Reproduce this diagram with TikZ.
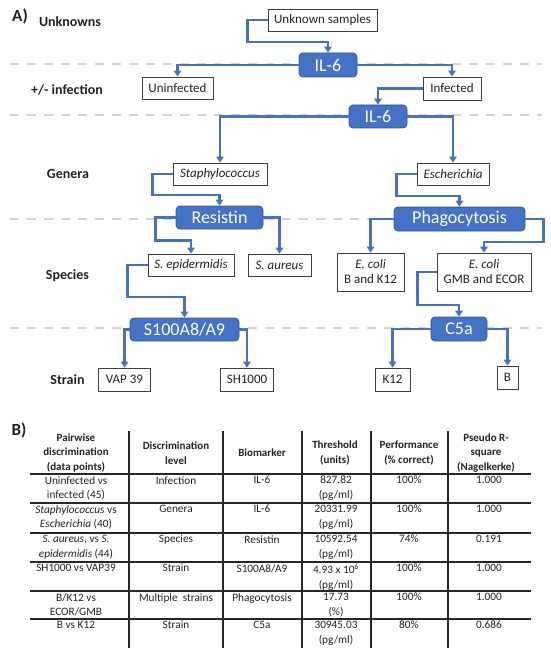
\documentclass[tikz,border=0pt]{standalone}
\usepackage{fontspec}
\setmainfont{Carlito}
\usetikzlibrary{arrows.meta}
\definecolor{bl}{HTML}{4472C4}
\definecolor{bld}{HTML}{2F5597}
\definecolor{dg}{HTML}{D3D3D3}
\definecolor{tx}{HTML}{222222}
\begin{document}
\begin{tikzpicture}[x=1pt,y=-1pt,
  wbox/.style={draw=black!75, line width=0.8pt, fill=white, inner sep=0pt, font=\fontsize{13}{15}\selectfont, text=tx, align=center},
  bbox/.style={draw=bld, line width=0.8pt, fill=bl, rounded corners=4pt, inner sep=0pt, text=white, font=\fontsize{18}{20}\selectfont},
  conn/.style={draw=bl, line width=2.3pt, -{Triangle[width=7.5pt,length=6pt]}},
  lvl/.style={font=\bfseries\fontsize{14}{16}\selectfont, text=tx, inner sep=0pt},
  sepline/.style={draw=dg, line width=2pt, dash pattern=on 9pt off 8pt},
  tline/.style={draw=black!85, line width=1.1pt},
  th/.style={font=\bfseries\fontsize{11}{14.5}\selectfont, align=center, text=tx, inner sep=0pt},
  td/.style={font=\fontsize{11.3}{14.5}\selectfont, align=center, text=tx, anchor=north, inner sep=0pt}]
\useasboundingbox (0,0) rectangle (550,655);

% separators
\foreach \yy in {64,115,219,328} \draw[sepline] (10,\yy) -- (542,\yy);

% panel labels
\node[font=\bfseries\fontsize{17}{19}\selectfont, text=tx, inner sep=0pt] (la) at (20,16) {A)};
\node[font=\bfseries\fontsize{17}{19}\selectfont, text=tx, inner sep=0pt] (lb) at (19,430) {B)};

% level labels
\node[lvl] (l1) at (70,22) {Unknowns};
\node[lvl] (l2) at (67,90) {+/- infection};
\node[lvl] (l3) at (68,174) {Genera};
\node[lvl] (l4) at (67.5,276) {Species};
\node[lvl] (l5) at (67.5,380) {Strain};

% boxes
\node[wbox, minimum width=109pt, minimum height=22pt] (us) at (322.5,20) {Unknown samples};
\node[bbox, minimum width=58pt, minimum height=24pt] (il1) at (328,65) {IL-6};
\node[wbox, minimum width=71pt, minimum height=22pt] (uninf) at (177.5,88) {Uninfected};
\node[wbox, minimum width=58pt, minimum height=23pt] (inf) at (452,88.5) {Infected};
\node[bbox, minimum width=58pt, minimum height=23pt] (il2) at (378,116.5) {IL-6};
\node[wbox, minimum width=94pt, minimum height=22pt] (staph) at (220,174) {\itshape Staphylococcus};
\node[wbox, minimum width=72pt, minimum height=22pt] (esch) at (453,174) {\itshape Escherichia};
\node[bbox, minimum width=87pt, minimum height=23pt] (res) at (219.5,217.5) {Resistin};
\node[bbox, minimum width=131pt, minimum height=24pt] (phago) at (459.5,219) {Phagocytosis};
\node[wbox, minimum width=86pt, minimum height=22pt] (sepi) at (191,265) {\itshape S. epidermidis};
\node[wbox, minimum width=63pt, minimum height=22pt] (saur) at (279.5,265) {\itshape S. aureus};
\node[wbox, minimum width=67pt, minimum height=38pt] (ecb) at (370.5,272) {\textit{E. coli}\\B and K12};
\node[wbox, minimum width=94pt, minimum height=38pt] (ecg) at (484,272) {\textit{E. coli}\\GMB and ECOR};
\node[bbox, minimum width=109pt, minimum height=23pt] (s100) at (184.5,329.5) {S100A8/A9};
\node[bbox, minimum width=56pt, minimum height=24pt] (c5a) at (459,329) {C5a};
\node[wbox, minimum width=52pt, minimum height=23pt] (vap) at (124.5,379.5) {VAP 39};
\node[wbox, minimum width=53pt, minimum height=23pt] (sh) at (247,379.5) {SH1000};
\node[wbox, minimum width=35pt, minimum height=23pt] (k12) at (392.5,379.5) {K12};
\node[wbox, minimum width=21pt, minimum height=23pt] (bb) at (507.5,377.5) {B};

% connectors
\draw[conn] (us.west) -| ++(-20,22) -| (il1.north);
\draw[conn] (il1.west) -| (uninf.north);
\draw[conn] (il1.east) -| (inf.north);
\draw[conn] (inf.west) -| (il2.north);
\draw[conn] (il2.west) -| (staph.north);
\draw[conn] (il2.east) -| (esch.north);
\draw[conn] (staph.west) -| ++(-20,21) -| (res.north);
\draw[conn] (res.west) -| ++(-20,23) -| (sepi.north);
\draw[conn] (res.east) -| (saur.north);
\draw[conn] (sepi.west) -| ++(-20,32) -| (s100.north);
\draw[conn] (s100.west) -| (vap.north);
\draw[conn] (s100.east) -| (sh.north);
\draw[conn] (esch.west) -| ++(-20,22) -| (phago.north);
\draw[conn] (phago.west) -| (ecb.north);
\draw[conn] (phago.east) -| ++(18,23) -| (ecg.north);
\draw[conn] (ecg.west) -| ++(-19,33) -| (c5a.north);
\draw[conn] (c5a.west) -| (k12.north);
\draw[conn] (c5a.east) -| (bb.north);

% table grid
\foreach \xx in {129,223,302,371,448} \draw[tline] (\xx,431) -- (\xx,648);
\foreach \yy in {474,503,533,562,591,619} \draw[tline] (30,\yy) -- (531,\yy);

% header
\node[th] (h1) at (76,453) {Pairwise\\discrimination\\(data points)};
\node[th] (h2) at (176,453) {Discrimination\\level};
\node[th] (h3) at (262,453) {Biomarker};
\node[th] (h4) at (335,453) {Threshold\\(units)};
\node[th] (h5) at (409,453) {Performance\\(\% correct)};
\node[th] (h6) at (486,453) {Pseudo R-\\square\\(Nagelkerke)};

% rows
\foreach \top/\a/\b/\c/\d/\e/\f in {
 476/{Uninfected vs\\infected (45)}/Infection/IL-6/{827.82\\(pg/ml)}/100\%/1.000,
 505/{\textit{Staphylococcus} vs\\\textit{Escherichia} (40)}/Genera/IL-6/{20331.99\\(pg/ml)}/100\%/1.000,
 535/{\textit{S. aureus}, vs \textit{S.}\\\textit{epidermidis} (44)}/Species/Resistin/{10592.54\\(pg/ml)}/74\%/0.191,
 564/{SH1000 vs VAP39}/Strain/{S100A8/A9}/{4.93 x 10\textsuperscript{6}\\(pg/ml)}/100\%/1.000,
 593/{B/K12 vs\\ECOR/GMB}/{Multiple\ \ strains}/Phagocytosis/{17.73\\(\%)}/100\%/1.000,
 621/{B vs K12}/Strain/C5a/{30945.03\\(pg/ml)}/80\%/0.686}
 {
 \node[td] at (76,\top) {\a};
 \node[td] at (176,\top) {\b};
 \node[td] at (262,\top) {\c};
 \node[td] at (336,\top) {\d};
 \node[td] at (409,\top) {\e};
 \node[td] at (489,\top) {\f};
 }
\end{tikzpicture}
\end{document}
